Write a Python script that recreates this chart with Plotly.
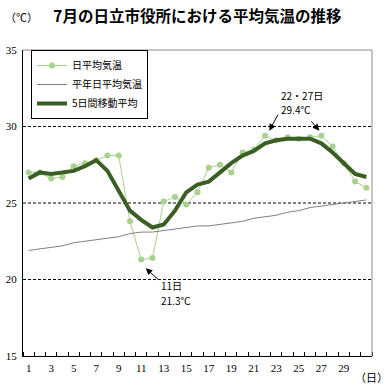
import plotly.graph_objects as go

days = list(range(1, 32))
daily = [27.0, 27.0, 26.6, 26.7, 27.4, 27.6, 27.8, 28.1, 28.1, 23.8,
         21.3, 21.4, 25.1, 25.4, 24.9, 25.7, 27.3, 27.5, 27.0, 28.3,
         28.5, 29.4, 29.1, 29.3, 29.2, 29.3, 29.4, 28.7, 27.6, 26.4, 26.0]
normal = [21.9, 22.0, 22.1, 22.2, 22.4, 22.5, 22.6, 22.7, 22.8, 23.0,
          23.1, 23.1, 23.2, 23.3, 23.4, 23.5, 23.5, 23.6, 23.7, 23.8,
          24.0, 24.1, 24.2, 24.4, 24.5, 24.7, 24.8, 24.9, 25.0, 25.1, 25.2]
moving5 = [26.6, 27.0, 26.9, 27.0, 27.1, 27.4, 27.8, 27.1, 25.8, 24.5,
           23.9, 23.4, 23.6, 24.5, 25.7, 26.2, 26.4, 27.0, 27.6, 28.1,
           28.4, 28.9, 29.1, 29.2, 29.2, 29.2, 28.9, 28.3, 27.6, 26.9, 26.7]
x_ticks = list(range(1, 30, 2))
y_ticks = [15, 20, 25, 30, 35]
grid_vals = [20, 25, 30]

JP = "Noto Sans CJK JP"
SERIF = "Liberation Serif"

fig = go.Figure()
fig.add_trace(go.Scatter(
    x=days, y=daily, name="日平均気温", mode="lines+markers",
    line=dict(color="#a9d18e", width=1),
    marker=dict(color="#a9d18e", size=6)))
fig.add_trace(go.Scatter(
    x=days, y=normal, name="平年日平均気温", mode="lines",
    line=dict(color="#808080", width=1)))
fig.add_trace(go.Scatter(
    x=days, y=moving5, name="5日間移動平均", mode="lines",
    line=dict(color="#3b5e24", width=4)))

shapes = []
for g in grid_vals:
    shapes.append(dict(type="line", xref="paper", x0=0, x1=1, yref="y", y0=g, y1=g,
                       line=dict(color="black", width=1, dash="3px,2px"), layer="below"))
shapes.append(dict(type="line", xref="paper", yref="paper", x0=0, x1=1, y0=1, y1=1,
                   line=dict(color="#8c8c8c", width=1)))
shapes.append(dict(type="line", xref="paper", yref="paper", x0=1, x1=1, y0=0, y1=1,
                   line=dict(color="#8c8c8c", width=1)))

ann_font = dict(family=JP, size=10, color="black")
arrow = dict(arrowhead=2, arrowsize=1.3, arrowwidth=1, arrowcolor="black", standoff=0)
annotations = [
    dict(text="（℃）", xref="paper", yref="paper", x=-0.057, y=1.108,
         xanchor="left", yanchor="middle", showarrow=False,
         font=dict(family=JP, size=11, color="black")),
    dict(text="（日）", xref="paper", yref="paper", x=0.946, y=-0.069,
         xanchor="left", yanchor="middle", showarrow=False,
         font=dict(family=JP, size=11, color="black")),
    dict(text="22・27日", x=23.24, y=32.01, xanchor="left", yanchor="middle",
         showarrow=False, font=ann_font),
    dict(text="29.4℃", x=23.24, y=31.12, xanchor="left", yanchor="middle",
         showarrow=False, font=ann_font),
    dict(text="", x=22.38, y=29.73, ax=9.4, ay=-17.4, showarrow=True, **arrow),
    dict(text="", x=26.82, y=29.73, ax=-9.3, ay=-10.7, showarrow=True, **arrow),
    dict(text="11日", x=12.61, y=19.59, xanchor="left", yanchor="middle",
         showarrow=False, font=ann_font),
    dict(text="21.3℃", x=12.61, y=18.66, xanchor="left", yanchor="middle",
         showarrow=False, font=ann_font),
    dict(text="", x=11.4, y=20.73, ax=14.3, ay=12.7, showarrow=True, **arrow),
]

fig.update_layout(
    width=390, height=390,
    margin=dict(l=23, r=18, t=50, b=34, autoexpand=False),
    paper_bgcolor="white", plot_bgcolor="white",
    title=dict(text="<b>7月の日立市役所における平均気温の推移</b>",
               x=0.506, xanchor="center", y=1 - 17 / 390, yanchor="middle",
               font=dict(family=JP, size=15.5, color="black")),
    xaxis=dict(range=[0.5, 31.5], tickmode="array", tickvals=x_ticks,
               ticktext=[str(v) for v in x_ticks], ticks="", showgrid=False,
               zeroline=False, showline=True, linecolor="black", linewidth=1,
               automargin=False,
               tickfont=dict(family=SERIF, size=11, color="black"),
               ticklabelstandoff=2,
               minor=dict(tickmode="linear", tick0=0.5, dtick=1, ticks="inside",
                          ticklen=4, tickcolor="black", tickwidth=1, showgrid=False)),
    yaxis=dict(range=[15, 35], tickmode="array", tickvals=y_ticks, ticks="",
               showgrid=False, zeroline=False, showline=True, linecolor="black",
               linewidth=1, automargin=False,
               tickfont=dict(family=SERIF, size=11, color="black"),
               ticklabelstandoff=3),
    legend=dict(x=0.023, y=1, xanchor="left", yanchor="top",
                bgcolor="white", bordercolor="black", borderwidth=1,
                font=dict(family=JP, size=10, color="black"),
                itemwidth=30, tracegroupgap=0),
    shapes=shapes,
    annotations=annotations,
    showlegend=True,
)

fig.write_html("out.html", config={"displayModeBar": False},
               post_script="document.body.style.margin='0';")
